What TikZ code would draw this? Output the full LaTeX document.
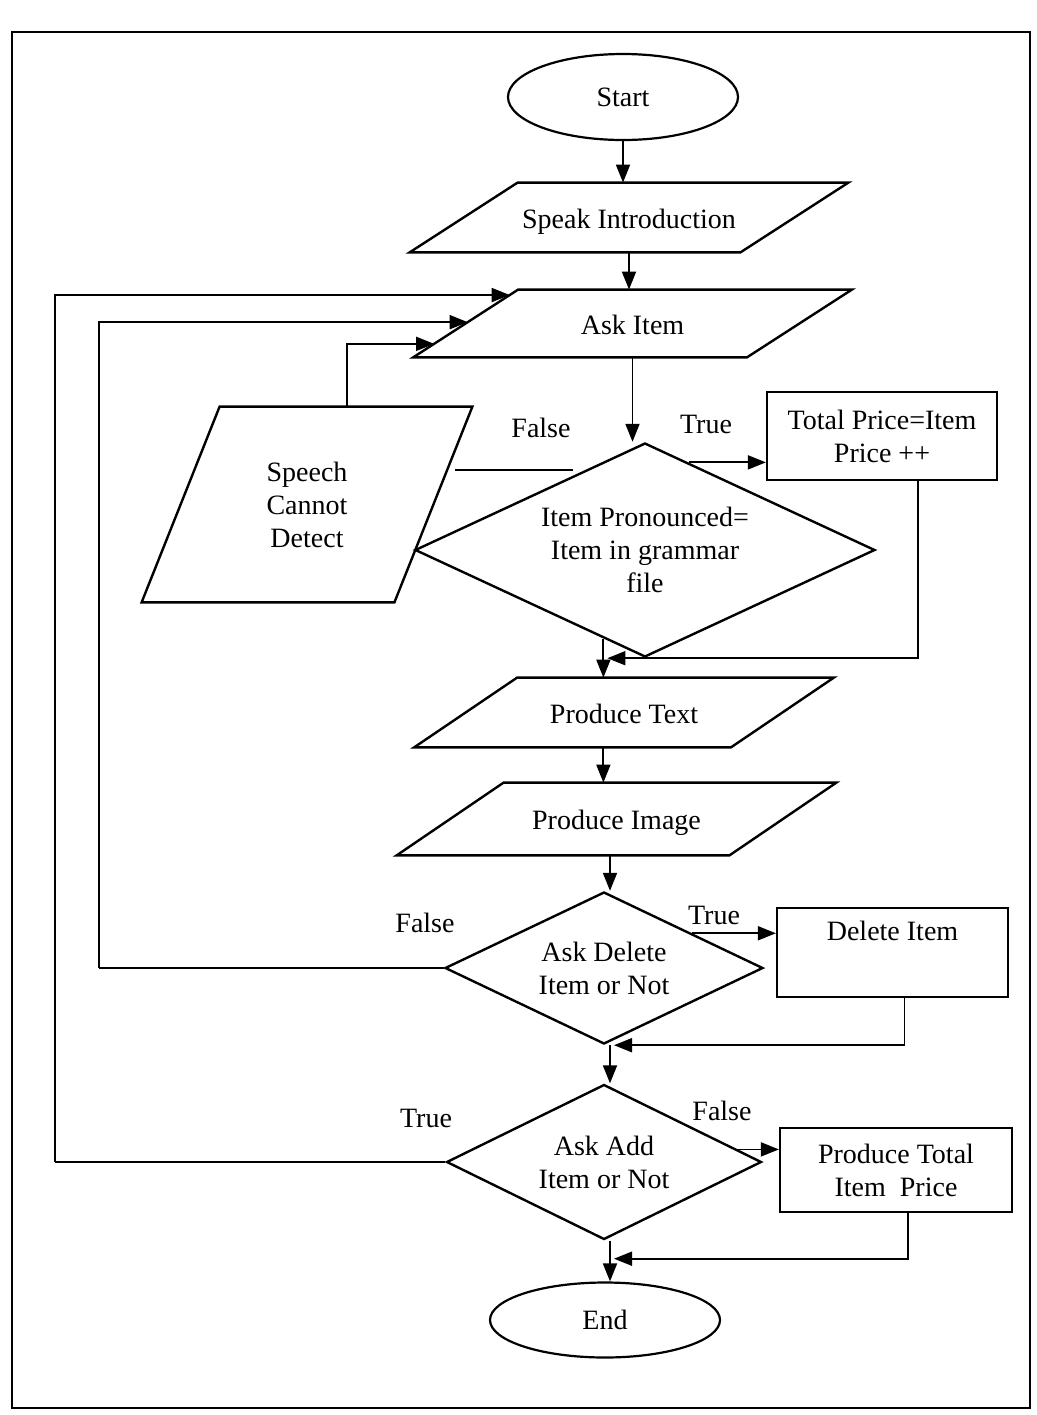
\documentclass[tikz,border=0pt]{standalone}
\usepackage{fontspec}
\setmainfont{Liberation Serif}
\usetikzlibrary{shapes.geometric,arrows.meta,calc}

% parallelogram round a plain node: name, half slant
\newcommand{\ioshape}[2]{%
  \draw[line width=1.2pt] ($(#1.north west)+(#2,0)$) -- ($(#1.north east)+(#2,0)$)
    -- ($(#1.south east)-(#2,0)$) -- ($(#1.south west)-(#2,0)$) -- cycle;}

\begin{document}
\begin{tikzpicture}[x=0.5pt,y=-0.5pt,
  every node/.style={font=\fontsize{14}{16.5}\selectfont, align=center, inner sep=0pt},
  box/.style={draw, line width=1.1pt, rectangle},
  io/.style={rectangle, text height=13pt, text depth=2.5pt},
  iotall/.style={rectangle},
  decide/.style={draw, line width=1.2pt, diamond},
  term/.style={draw, line width=1.1pt, ellipse},
  arr/.style={line width=0.9pt, -{Triangle[length=9pt,width=7pt]}},
  link/.style={line width=0.9pt}]
\useasboundingbox (0,0) rectangle (1037,1415);
% Frame
\draw[line width=1pt] (12,32) rectangle (1030,1408);

% Main column
\node[term, minimum width=115pt, minimum height=43pt] (start) at (623,97) {Start};
\node[io, minimum width=165pt, minimum height=34.5pt] (speak) at (629,217.5) {Speak Introduction};
\node[io, minimum width=166.5pt, minimum height=33.5pt] (ask) at (632.5,323.5) {Ask Item};
\node[decide, aspect=2.15, minimum width=230pt, minimum height=107pt] (d1) at (645,550) {Item Pronounced=\\Item in grammar\\file};
\node[box, minimum width=115pt, minimum height=44pt] (total) at (882,436) {Total Price=Item\\Price ++};
\node[iotall, minimum width=126pt, minimum height=97.5pt] (speech) at (307,504.5) {Speech\\Cannot\\Detect};
\node[io, minimum width=158pt, minimum height=34.5pt] (ptext) at (624,712.5) {Produce Text};
\node[io, minimum width=166pt, minimum height=36pt] (pimage) at (616.5,819) {Produce Image};
\node[decide, aspect=2.1, minimum width=159pt, minimum height=76pt] (d2) at (604,968) {Ask Delete\\Item or Not};
\node[box, minimum width=115.5pt, minimum height=44.5pt] (delete) at (892.5,952.5) {Delete Item\\ \strut};
\node[decide, aspect=2.05, minimum width=157.5pt, minimum height=77.5pt] (d3) at (604,1162) {Ask Add\\Item or Not};
\node[box, minimum width=116pt, minimum height=42pt] (ptotal) at (896,1170) {Produce Total\\Item~~Price};
\node[term, minimum width=115pt, minimum height=37.5pt] (end) at (605,1320) {End};

% Parallelograms
\ioshape{speak}{54}
\ioshape{ask}{52.5}
\ioshape{speech}{39}
\ioshape{ptext}{51.5}
\ioshape{pimage}{53.5}

% Labels
\node (lf1) at (541,428) {False};
\node (lt1) at (706,424) {True};
\node (lf2) at (425,923) {False};
\node (lt2) at (714,915) {True};
\node (lt3) at (426,1118) {True};
\node (lf3) at (722,1111) {False};

% Points on the edges
\coordinate (askbl) at ($(ask.south west)-(52.5,0)$);
\coordinate (asktl) at ($(ask.north west)+(52.5,0)$);
\coordinate (t1) at ($(d1.north)!0.19!(d1.east)$);
\coordinate (f1) at ($(d1.north)!0.26!(d1.west)$);
\coordinate (f1end) at (455,0);
\coordinate (b1) at ($(d1.south)!0.18!(d1.west)$);
\coordinate (j1) at (b1 |- d1.south);
\coordinate (t2) at ($(d2.north)!0.55!(d2.east)$);
\coordinate (j2) at ([xshift=3pt]d2.south);
\coordinate (t3) at ($(d3.north)!0.84!(d3.east)$);
\coordinate (j3) at ([xshift=3pt,yshift=-9pt]d3.south);
\coordinate (in1) at ($(askbl)!0.2!(asktl)$);
\coordinate (in2) at ($(askbl)!0.52!(asktl)$);
\coordinate (in3) at ($(askbl)!0.92!(asktl)$);

% Connectors
\draw[arr] (start.south) -- (start.south |- speak.north);
\draw[arr] (speak.south) -- (speak.south |- ask.north);
\draw[arr] (ask.south) -- (ask.south |- d1.north);
\draw[arr] (t1) -- (t1 -| total.west);
\draw[link] ([xshift=-6pt]f1) -- (f1 -| f1end);
\draw[arr] ([xshift=20pt]speech.north) |- (in1);
\draw[arr] ([xshift=18pt]total.south) |- ([xshift=2pt]j1);
\draw[arr] (b1) -- (b1 |- ptext.north);
\draw[arr] (b1 |- ptext.south) -- (b1 |- pimage.north);
\draw[arr] (pimage.south -| j2) -- (j2 |- d2.north);
\draw[arr] (t2) -- (t2 -| delete.west);
\draw[link] (d2.west) -- ++(-345,0) coordinate (c2);
\draw[arr] (c2) |- (in2);
\draw[arr] ([xshift=6pt]delete.south) |- ([xshift=2pt]j2);
\draw[arr] (j2) -- (j2 |- d3.north);
\draw[arr] (t3) -- (t3 -| ptotal.west);
\draw[link] (d3.west) -- ++(-390,0) coordinate (c3);
\draw[arr] (c3) |- (in3);
\draw[arr] ([xshift=6pt]ptotal.south) |- ([xshift=2pt]j3);
\draw[arr] (d3.south -| j3) -- (j3 |- end.north);
\end{tikzpicture}
\end{document}
